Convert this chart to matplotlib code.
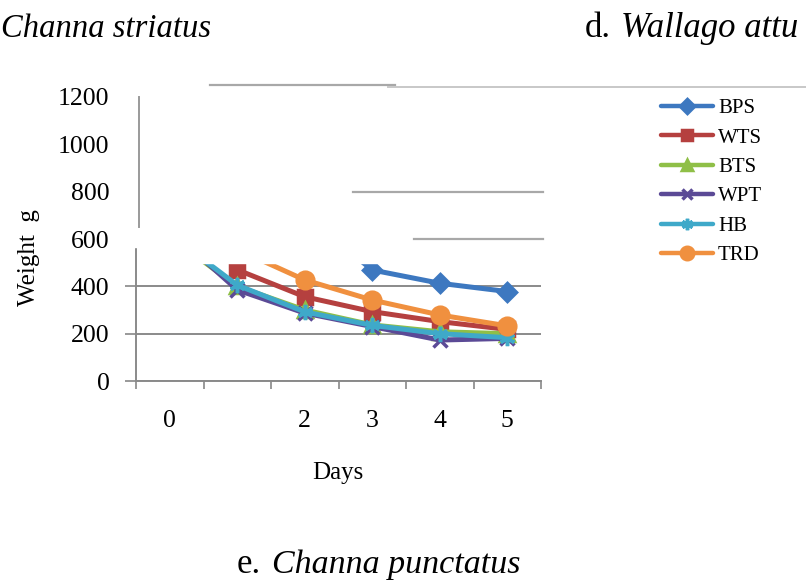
import matplotlib
matplotlib.use("Agg")
import matplotlib.pyplot as plt
from matplotlib.lines import Line2D
from matplotlib.patches import Rectangle

plt.rcParams["font.family"] = ["Liberation Serif", "DejaVu Serif"]

W, H = 806, 586

days = ["0", "1", "2", "3", "4", "5"]
day_labels = ["0", "", "2", "3", "4", "5"]
y_ticks = [0, 200, 400, 600, 800, 1000, 1200]

series_names = ["BPS", "WTS", "BTS", "WPT", "HB", "TRD"]
bps = [1150, 950, 700, 469, 413, 378]
wts = [900, 470, 356, 293, 251, 218]
bts = [610, 400, 300, 237, 208, 200]
wpt = [640, 385, 287, 230, 173, 180]
hb = [620, 405, 292, 235, 200, 183]
trd = [800, 556, 427, 342, 279, 233]

colors = ["#3d78c0", "#b5403f", "#8fbf47", "#5b4a96", "#3fa9c9", "#f0903f"]
markers = ["D", "s", "^", "x", (6, 2, 0), "o"]
marker_sizes = [9, 10, 10, 10, 11, 12]


def fx(px):
    return px / W


def fy(py):
    return 1 - py / H


fig = plt.figure(figsize=(W / 100, H / 100), dpi=100)
ax = fig.add_axes([fx(136), fy(381), fx(541) - fx(136), fy(97) - fy(381)])

x = list(range(len(days)))
for name, vals, c, m, ms in zip(series_names, [bps, wts, bts, wpt, hb, trd], colors, markers, marker_sizes):
    ax.plot(x, vals, color=c, lw=3.6, marker=m, ms=ms, mew=2.5,
            mfc=c, mec=c, label=name, solid_capstyle="round")

ax.set_xlim(-0.5, 5.5)
ax.set_ylim(0, 1200)
ax.set_yticks(y_ticks)
ax.set_yticklabels([str(v) for v in y_ticks], fontsize=18.5)
ax.set_xticks(x)
ax.set_xticklabels(day_labels, fontsize=18.5)
ax.set_xticks([i - 0.5 for i in range(len(days) + 1)], minor=True)
ax.tick_params(axis="x", which="major", length=0, pad=21)
ax.tick_params(axis="x", which="minor", length=6, width=1.2, color="#888888", direction="out")
ax.tick_params(axis="y", length=8, width=1.2, color="#888888", pad=11)
ax.grid(axis="y", color="#8a8a8a", lw=1.4)
ax.set_axisbelow(True)
for s in ["top", "right"]:
    ax.spines[s].set_visible(False)
for s in ["left", "bottom"]:
    ax.spines[s].set_color("#8a8a8a")
    ax.spines[s].set_linewidth(1.4)

fig.text(fx(338), fy(473), "Days", ha="center", va="center", fontsize=18)
fig.text(fx(29), fy(258), "Weight  g", ha="center", va="center", rotation=90, fontsize=18)

leg = fig.legend(loc="upper left", bbox_to_anchor=(fx(642), fy(80)), frameon=False,
                 fontsize=15, handlelength=2.5, labelspacing=0.47, handletextpad=0.25,
                 markerscale=0.75)
for line in leg.get_lines():
    line.set_linewidth(3.2)

# white cut-outs over the upper part of the plot
fig.add_artist(Rectangle((fx(120), fy(247)), fx(560) - fx(120), fy(88) - fy(247),
                         transform=fig.transFigure, color="white", zorder=5))
fig.add_artist(Rectangle((fx(139), fy(263)), fx(560) - fx(139), fy(247) - fy(263),
                         transform=fig.transFigure, color="white", zorder=5))

# stray lines left from the scan
fig.add_artist(Line2D([fx(139), fx(139)], [fy(97), fy(227)], transform=fig.transFigure,
                      color="#9a9a9a", lw=1.4, zorder=6))
fig.add_artist(Line2D([fx(210), fx(395)], [fy(85), fy(85)], transform=fig.transFigure,
                      color="#a8a8a8", lw=1.6, zorder=6))
fig.add_artist(Line2D([fx(388), fx(806)], [fy(86.5), fy(86.5)], transform=fig.transFigure,
                      color="#c8c8c8", lw=1.4, zorder=6))
fig.add_artist(Line2D([fx(353), fx(543)], [fy(192), fy(192)], transform=fig.transFigure,
                      color="#a8a8a8", lw=1.6, zorder=6))
fig.add_artist(Line2D([fx(414), fx(543)], [fy(239), fy(239)], transform=fig.transFigure,
                      color="#a8a8a8", lw=1.6, zorder=6))

# panel captions
fig.text(fx(1), fy(37), "Channa striatus", ha="left", va="baseline",
         fontsize=23.5, style="italic")
fig.text(fx(585), fy(37), "d.", ha="left", va="baseline", fontsize=25)
fig.text(fx(621), fy(37), "Wallago attu", ha="left", va="baseline", fontsize=25, style="italic")
fig.text(fx(237), fy(573), "e.", ha="left", va="baseline", fontsize=25)
fig.text(fx(272), fy(573), "Channa punctatus", ha="left", va="baseline", fontsize=24.5, style="italic")

fig.savefig("out.png", dpi=100)
